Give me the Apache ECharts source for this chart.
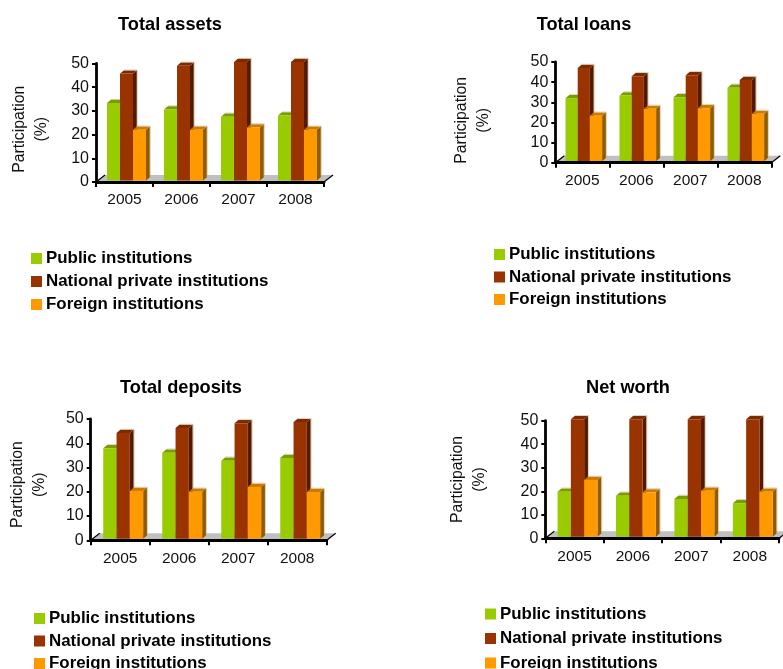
<!DOCTYPE html>
<html>
<head>
<meta charset="utf-8">
<style>html,body{margin:0;padding:0;background:#fff}#chart{width:783px;height:669px}</style>
<script src="https://cdn.jsdelivr.net/npm/echarts@6/dist/echarts.min.js"></script>
</head>
<body>
<div id="chart"></div>
<script>
// Market participation by institution type, 2005-2008 (%)
const years = ['2005', '2006', '2007', '2008'];
const seriesNames = ['Public institutions', 'National private institutions', 'Foreign institutions'];
const yTicks = { min: 0, max: 50, interval: 10 };

const assetsPublic = [32.7, 30.0, 26.9, 27.4];
const assetsNational = [45.1, 48.4, 50, 50];
const assetsForeign = [21.4, 21.4, 22.4, 21.4];

const loansPublic = [31.3, 32.6, 31.8, 36.5];
const loansNational = [46.3, 42.2, 42.7, 40.3];
const loansForeign = [22.6, 26.0, 26.3, 23.5];

const depositsPublic = [37.3, 35.5, 32.2, 33.3];
const depositsNational = [43.6, 45.7, 47.6, 48.1];
const depositsForeign = [19.7, 19.4, 21.4, 19.3];

const worthPublic = [19.2, 17.5, 16.1, 14.3];
const worthNational = [50, 50, 50, 50];
const worthForeign = [24.2, 18.9, 19.6, 19.2];

// Front, top and side shades for the extruded columns
const shades = [
  { front: '#99cc00', top: '#769e00', side: '#6f9400' },
  { front: '#993300', top: '#7c2a00', side: '#521b00' },
  { front: '#ff9900', top: '#cc7a00', side: '#8f5c00' }
];

const panels = [
  { title: 'Total assets', values: [assetsPublic, assetsNational, assetsForeign],
    grid: { left: 96, top: 63.5, width: 228, height: 118.5 }, titleX: 170, titleY: 15.5,
    legend: { left: 31, top: 250, gap: 6 }, nameShift: 13, nameGap: 43, group: 2, barW: 13 },
  { title: 'Total loans', values: [loansPublic, loansNational, loansForeign],
    grid: { left: 555.3, top: 62, width: 216, height: 100.7 }, titleX: 584, titleY: 15.5,
    legend: { left: 494, top: 246, gap: 5.5 }, nameShift: 16, nameGap: 61, group: 1.5, barW: 12.2 },
  { title: 'Total deposits', values: [depositsPublic, depositsNational, depositsForeign],
    grid: { left: 90.7, top: 419, width: 236, height: 121.3 }, titleX: 181, titleY: 379,
    legend: { left: 34, top: 610, gap: 5.5 }, nameShift: 10, nameGap: 40, group: 3, barW: 13.3 },
  { title: 'Net worth', values: [worthPublic, worthNational, worthForeign],
    grid: { left: 545.3, top: 420.7, width: 233.7, height: 117.6 }, titleX: 628, titleY: 379,
    legend: { left: 485, top: 605.5, gap: 7.5 }, nameShift: 0, nameGap: 55, group: 3, barW: 13.3 }
];

const depthX = 3.8;
const depthY = 3.2;
const baseLift = 1.5;

function renderColumn(panel, seriesIndex, params, api) {
  const cat = api.value(0);
  const centre = api.coord([cat, 0])[0] + panel.group;
  const w = panel.barW;
  const x = centre - w * 1.5 + seriesIndex * w;
  const yBase = api.coord([cat, 0])[1] - baseLift;
  const yTop = api.coord([cat, api.value(1)])[1] - baseLift;
  const s = shades[seriesIndex];
  return {
    type: 'group',
    children: [
      { type: 'polygon', shape: { points: [[x + w, yTop], [x + w + depthX, yTop - depthY], [x + w + depthX, yBase - depthY], [x + w, yBase]] }, style: { fill: s.side } },
      { type: 'polygon', shape: { points: [[x, yTop], [x + depthX, yTop - depthY], [x + w + depthX, yTop - depthY], [x + w, yTop]] }, style: { fill: s.top } },
      // pale rim along the outer edge of the extrusion
      { type: 'polyline', shape: { points: [[x + depthX, yTop - depthY - 0.5], [x + w + depthX + 0.5, yTop - depthY - 0.5], [x + w + depthX + 0.5, yBase - depthY]] }, style: { fill: 'none', stroke: 'rgba(205,170,125,0.55)', lineWidth: 1 } },
      { type: 'rect', shape: { x: x, y: yTop, width: w, height: yBase - yTop }, style: { fill: s.front } }
    ]
  };
}

function renderFloor(params, api) {
  const c = params.coordSys;
  const y0 = c.y + c.height;
  const fx = 9, fy = 7;
  return {
    type: 'group',
    children: [
      { type: 'polygon', shape: { points: [[c.x, y0], [c.x + fx, y0 - fy], [c.x + c.width + fx, y0 - fy], [c.x + c.width, y0]] }, style: { fill: '#c0c0c0' } },
      { type: 'line', shape: { x1: c.x, y1: y0, x2: c.x + fx, y2: y0 - fy }, style: { stroke: '#000', lineWidth: 1.2 } },
      { type: 'line', shape: { x1: c.x + c.width, y1: y0, x2: c.x + c.width + fx, y2: y0 - fy }, style: { stroke: '#000', lineWidth: 1.2 } }
    ]
  };
}

const option = {
  animation: false,
  backgroundColor: '#fff',
  textStyle: { fontFamily: '"Liberation Sans", Arial, sans-serif' },
  title: panels.map(p => ({
    text: p.title, left: p.titleX, top: p.titleY, textAlign: 'center', padding: 0,
    textStyle: { fontSize: 18.2, fontWeight: 'bold', color: '#000', fontFamily: '"Liberation Sans", Arial, sans-serif' }
  })),
  grid: panels.map(p => Object.assign({ containLabel: false, outerBoundsMode: 'none' }, p.grid)),
  legend: panels.map(p => ({
    orient: 'vertical', left: p.legend.left, top: p.legend.top, padding: 0, height: 300,
    itemWidth: 11, itemHeight: 11, itemGap: p.legend.gap, icon: 'rect', selectedMode: false,
    data: seriesNames.map((n, i) => ({ name: n, itemStyle: { color: shades[i].front } })),
    textStyle: { fontSize: 16.9, fontWeight: 'bold', color: '#000', padding: [0, 0, 0, -1], fontFamily: '"Liberation Sans", Arial, sans-serif' }
  })),
  xAxis: panels.map((p, i) => ({
    type: 'category', gridIndex: i, data: years,
    axisLine: { lineStyle: { color: '#000', width: 2.8 } },
    axisTick: { show: true, length: 5, alignWithLabel: false, lineStyle: { color: '#000', width: 2 } },
    axisLabel: { color: '#111', fontSize: 15.5, margin: 10, interval: 0 },
    z: 5
  })),
  yAxis: panels.map((p, i) => ({
    type: 'value', gridIndex: i, min: yTicks.min, max: yTicks.max, interval: yTicks.interval,
    name: 'Participation\n(%)', nameLocation: 'middle', nameGap: p.nameGap, nameRotate: 90,
    nameTextStyle: { color: '#111', fontSize: 15.8, lineHeight: 22, padding: [0, p.nameShift, 0, 0] },
    axisLine: { show: true, lineStyle: { color: '#000', width: 2.8 } },
    axisTick: { show: true, length: 4, lineStyle: { color: '#000', width: 2 } },
    axisLabel: { color: '#111', fontSize: 16, margin: 7 },
    splitLine: { show: false },
    z: 5
  })),
  series: panels.flatMap((p, i) => [
    { type: 'custom', name: 'floor' + i, xAxisIndex: i, yAxisIndex: i, silent: true, z: 1,
      renderItem: renderFloor, data: [[0, 0]], encode: { x: 0, y: 1 } }
  ].concat(seriesNames.map((name, k) => ({
    type: 'custom', name: name, xAxisIndex: i, yAxisIndex: i, z: 2 + k, silent: true,
    itemStyle: { color: shades[k].front },
    renderItem: (params, api) => renderColumn(p, k, params, api),
    encode: { x: 0, y: 1 },
    data: p.values[k].map((v, c) => [c, v])
  }))))
};

const chart = echarts.init(document.getElementById('chart'), null, { renderer: 'canvas' });
chart.setOption(option);
</script>
</body>
</html>
